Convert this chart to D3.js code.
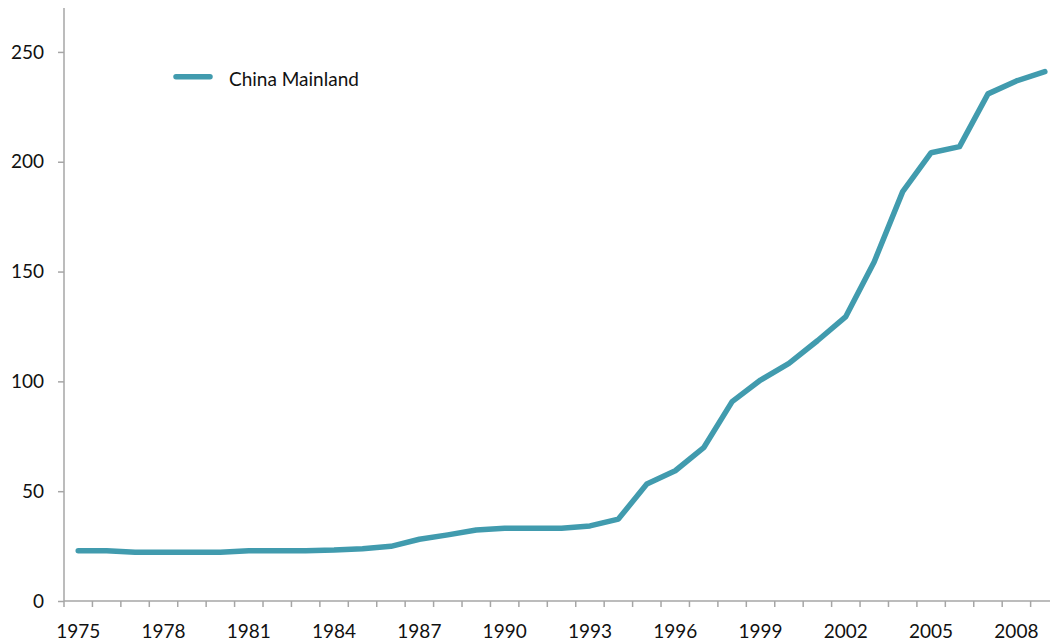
<!DOCTYPE html>
<html>
<head>
<meta charset="utf-8">
<script src="https://cdn.jsdelivr.net/npm/d3@7"></script>
<style>
  html, body { margin: 0; padding: 0; background: #fff; }
  svg { display: block; }
  text { font-family: Lato, "Open Sans", sans-serif; fill: #111; }
</style>
</head>
<body>
<svg id="chart" width="1050" height="644"></svg>
<script>
const years = d3.range(1975, 2010);
const values = [22.9, 22.9, 22.2, 22.2, 22.2, 22.2, 22.9, 22.9, 22.9, 23.2,
                23.8, 24.9, 28.1, 30.1, 32.3, 33.1, 33.1, 33.1, 34.2, 37.3,
                53.3, 59.3, 69.8, 90.8, 100.6, 108.2, 118.5, 129.5, 154.5, 186.4,
                204.1, 206.9, 230.9, 236.8, 241.0];
const seriesName = "China Mainland";
const yTicks = [0, 50, 100, 150, 200, 250];
const xTickLabels = [1975, 1978, 1981, 1984, 1987, 1990, 1993, 1996, 1999, 2002, 2005, 2008];

(function () {
const svg = d3.select("#chart");
const mLeft = 64, mBottom = 601, mTop = 8;
const bandW = 28.43;
const fs = 19;

const x = d3.scaleBand().domain(years).range([mLeft, mLeft + bandW * years.length]).paddingInner(0).paddingOuter(0);
const y = d3.scaleLinear().domain([0, 270]).range([mBottom, mTop]);

const axisColor = "#a6a6a6";

// y axis
const yAxis = svg.append("g").attr("transform", `translate(${mLeft},0)`)
  .call(d3.axisLeft(y).tickValues(yTicks).tickSize(6).tickPadding(14).tickFormat(d3.format("d")));
yAxis.select(".domain").attr("stroke", axisColor).attr("stroke-width", 1.5).attr("d", `M0,${mTop}V${mBottom}`);
yAxis.selectAll(".tick line").attr("stroke", axisColor).attr("stroke-width", 1.5);
yAxis.selectAll(".tick text").attr("font-size", fs).style("font-family", "Lato, 'Open Sans', sans-serif").attr("fill", "#111");

// x axis: ticks at category boundaries
const xAxisG = svg.append("g");
xAxisG.append("line").attr("x1", mLeft).attr("x2", 1050).attr("y1", mBottom).attr("y2", mBottom)
  .attr("stroke", axisColor).attr("stroke-width", 1.5);
xAxisG.selectAll("line.tk").data(years).enter().append("line").attr("class", "tk")
  .attr("x1", d => x(d)).attr("x2", d => x(d)).attr("y1", mBottom).attr("y2", mBottom + 6)
  .attr("stroke", axisColor).attr("stroke-width", 1.5);
xAxisG.selectAll("text").data(xTickLabels).enter().append("text")
  .attr("x", d => x(d) + x.bandwidth() / 2).attr("y", 637.5)
  .attr("text-anchor", "middle").attr("font-size", fs).text(d => d);

// line
const color = "#419bae";
const line = d3.line().x((d, i) => x(years[i]) + x.bandwidth() / 2).y(d => y(d)).curve(d3.curveLinear);
svg.append("path").datum(values).attr("d", line).attr("fill", "none")
  .attr("stroke", color).attr("stroke-width", 5.5).attr("stroke-linejoin", "round").attr("stroke-linecap", "round");

// legend
svg.append("line").attr("x1", 176).attr("x2", 210).attr("y1", 76.7).attr("y2", 76.7)
  .attr("stroke", color).attr("stroke-width", 5.5).attr("stroke-linecap", "round");
svg.append("text").attr("x", 229).attr("y", 85.5).attr("font-size", fs).text(seriesName);
})();
</script>
</body>
</html>
